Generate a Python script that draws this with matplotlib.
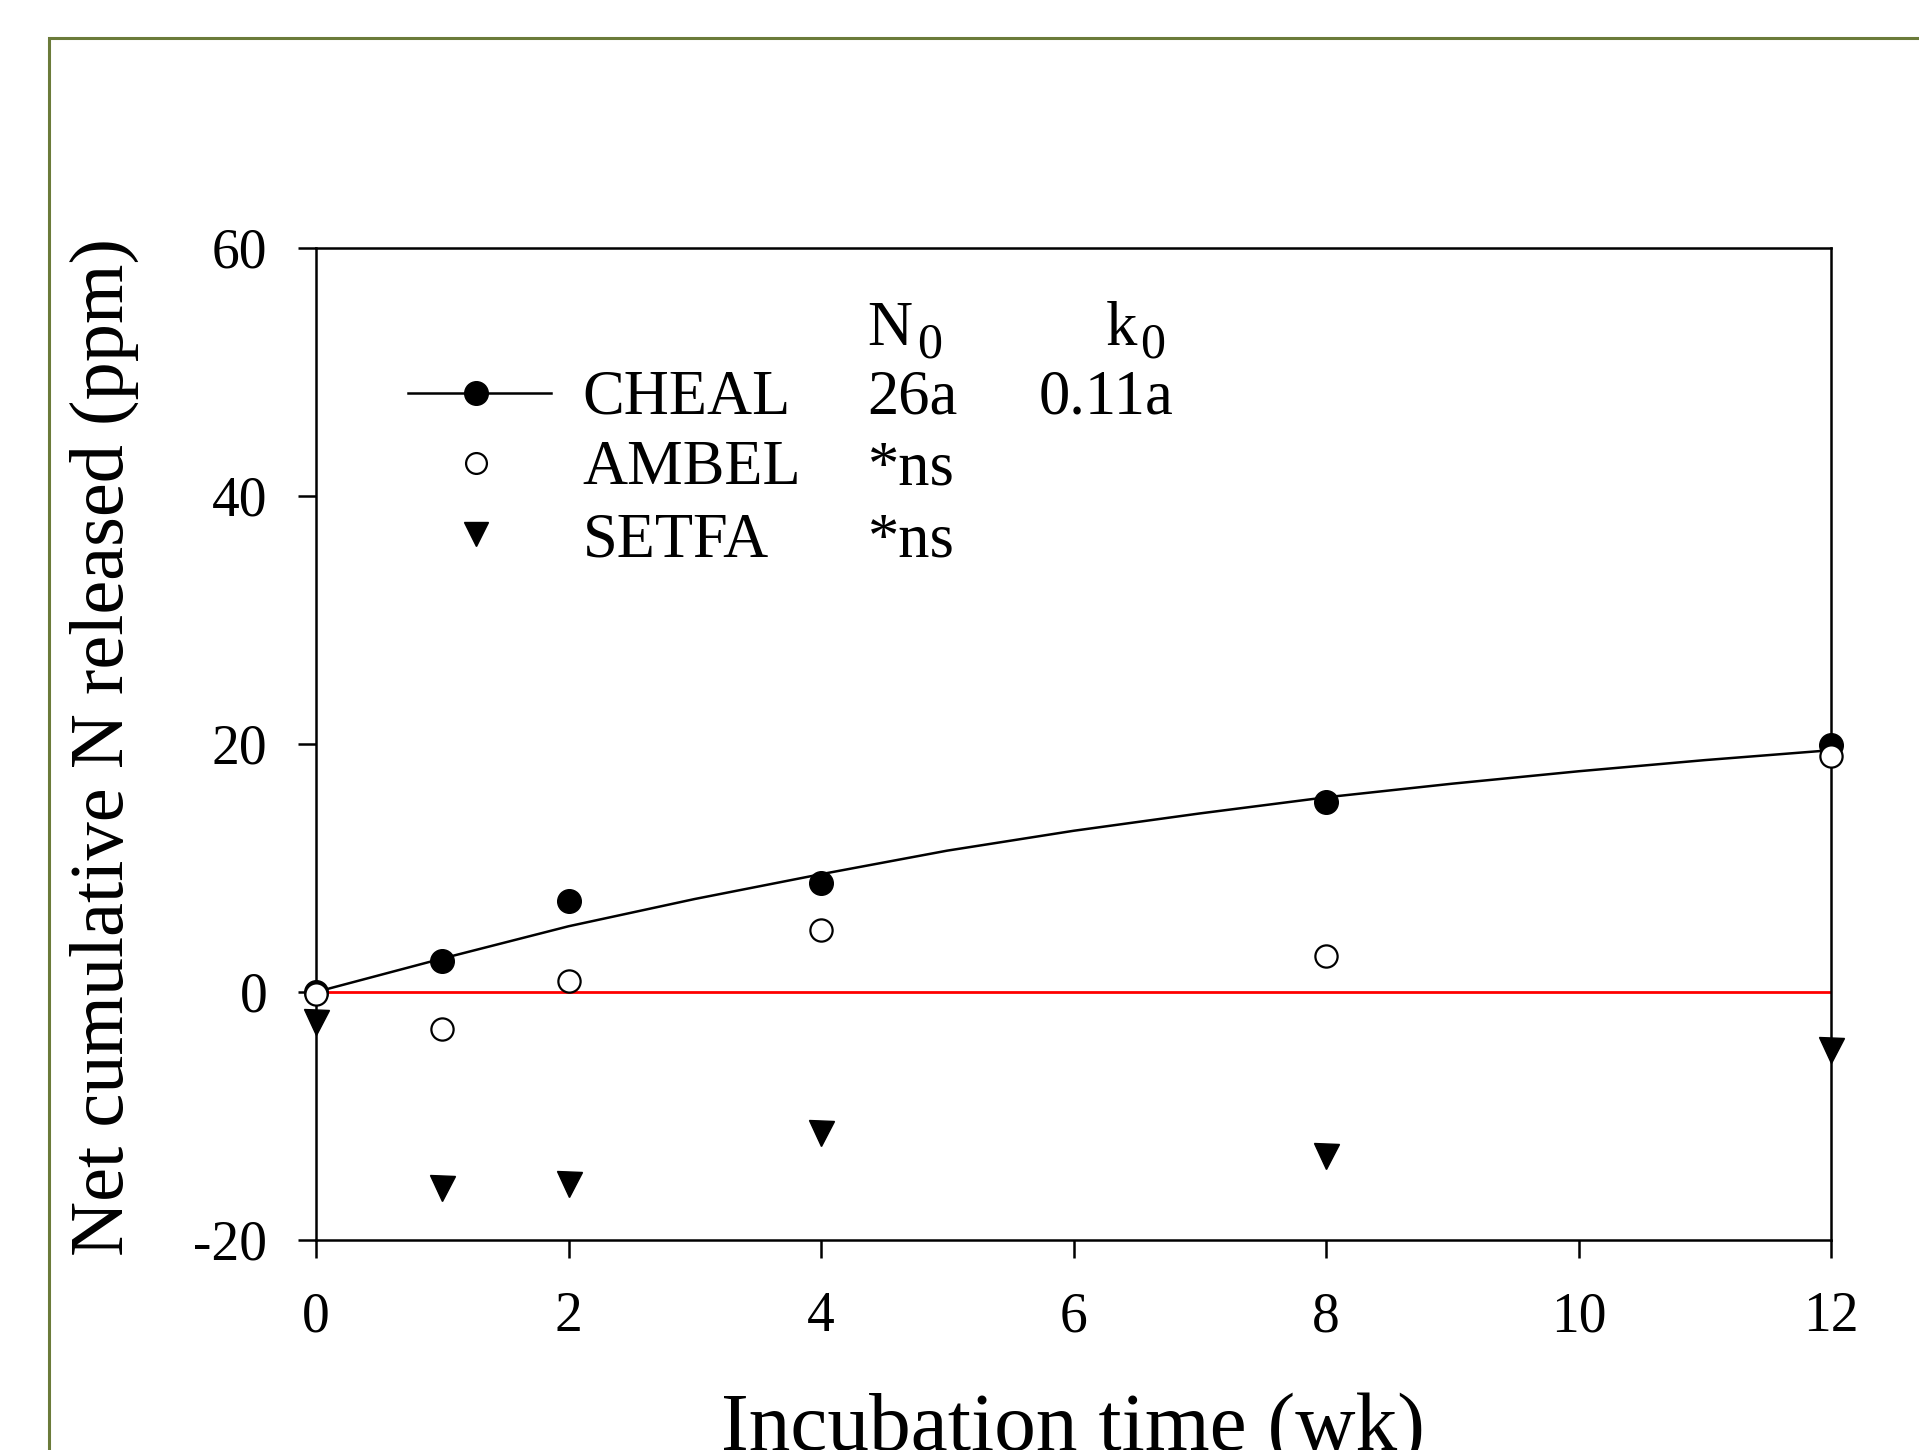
import matplotlib
matplotlib.use("Agg")
import matplotlib.pyplot as plt
from matplotlib.patches import Rectangle

plt.rcParams.update({
    "font.family": ["Liberation Serif", "DejaVu Serif"],
    "axes.unicode_minus": False,
    "axes.linewidth": 1.8,
})

# incubation weeks and measured values
weeks = [0, 1, 2, 4, 8, 12]
cheal = [0.0, 2.5, 7.3, 8.8, 15.3, 19.9]
ambel = [-0.2, -3.0, 0.9, 5.0, 2.9, 19.0]
setfa = [-2.4, -15.8, -15.5, -11.4, -13.2, -4.7]

# fitted curve for CHEAL
fit_t = [0, 1, 2, 3, 4, 5, 6, 7, 8, 9, 10, 11, 12]
fit_n = [0.0, 2.7, 5.3, 7.5, 9.5, 11.4, 13.0, 14.4, 15.7, 16.8, 17.8, 18.7, 19.5]

species = ["CHEAL", "AMBEL", "SETFA"]
n0_col = ["26a", "*ns", "*ns"]
k0_col = ["0.11a", "", ""]

fig = plt.figure(figsize=(19.19, 14.5), dpi=100)

# olive outer frame, cut by the image edges
fig.patches.append(Rectangle((49 / 1919, -0.2), 1.2, 1.2 - 38 / 1450,
                             transform=fig.transFigure, fill=False,
                             edgecolor="#6b7b3a", lw=2.2, zorder=0))

ax = fig.add_axes([316 / 1919, 1 - 1240 / 1450, 1515 / 1919, 992 / 1450])

ax.plot([0, 12], [0, 0], color="red", lw=2.0, zorder=2)
ax.plot(fit_t, fit_n, color="black", lw=1.8, zorder=3)
ax.plot(weeks, cheal, "o", ms=17, color="black", clip_on=False, zorder=4)
ax.plot(weeks, ambel, "o", ms=16, mfc="white", mec="black", mew=1.6,
        clip_on=False, zorder=5)
ax.plot(weeks, setfa, "v", ms=18, color="black", clip_on=False, zorder=4)

ax.set_xlim(0, 12)
ax.set_ylim(-20, 60)
ax.set_xticks(range(0, 13, 2))
ax.set_yticks([-20, 0, 20, 40, 60])
ax.tick_params(direction="out", length=13, width=1.8, labelsize=40)
ax.tick_params(axis="x", pad=24)
ax.tick_params(axis="y", pad=22)

# legend-like block drawn in axes fraction
tr = ax.transAxes
ax.plot([0.0606, 0.155], [0.854, 0.854], color="black", lw=1.8,
        transform=tr, clip_on=False)
ax.plot([0.1058], [0.854], "o", ms=17, color="black", transform=tr)
ax.plot([0.1058], [0.783], "o", ms=15, mfc="white", mec="black", mew=1.6,
        transform=tr)
ax.plot([0.1058], [0.712], "v", ms=17, color="black", transform=tr)

fs = 45
ax.text(0.364, 0.9025, "N", fontsize=fs, transform=tr, va="baseline")
ax.text(0.397, 0.890, "0", fontsize=36, transform=tr, va="baseline")
ax.text(0.521, 0.9025, "k", fontsize=fs, transform=tr, va="baseline")
ax.text(0.544, 0.890, "0", fontsize=36, transform=tr, va="baseline")
rows_y = [0.833, 0.7617, 0.689]
for name, n0, k0, yy in zip(species, n0_col, k0_col, rows_y):
    ax.text(0.176, yy, name, fontsize=fs, transform=tr, va="baseline")
    ax.text(0.364, yy, n0, fontsize=fs, transform=tr, va="baseline")
    if k0:
        ax.text(0.477, yy, k0, fontsize=fs, transform=tr, va="baseline")

fig.text(104 / 1919, 1 - 747 / 1450, "Net cumulative N released (ppm)",
         rotation=90, ha="center", va="center", fontsize=55)
fig.text(1073 / 1919, 0.0, "Incubation time (wk)", ha="center",
         va="baseline", fontsize=60)

fig.savefig("out.png", dpi=100, facecolor="white")
